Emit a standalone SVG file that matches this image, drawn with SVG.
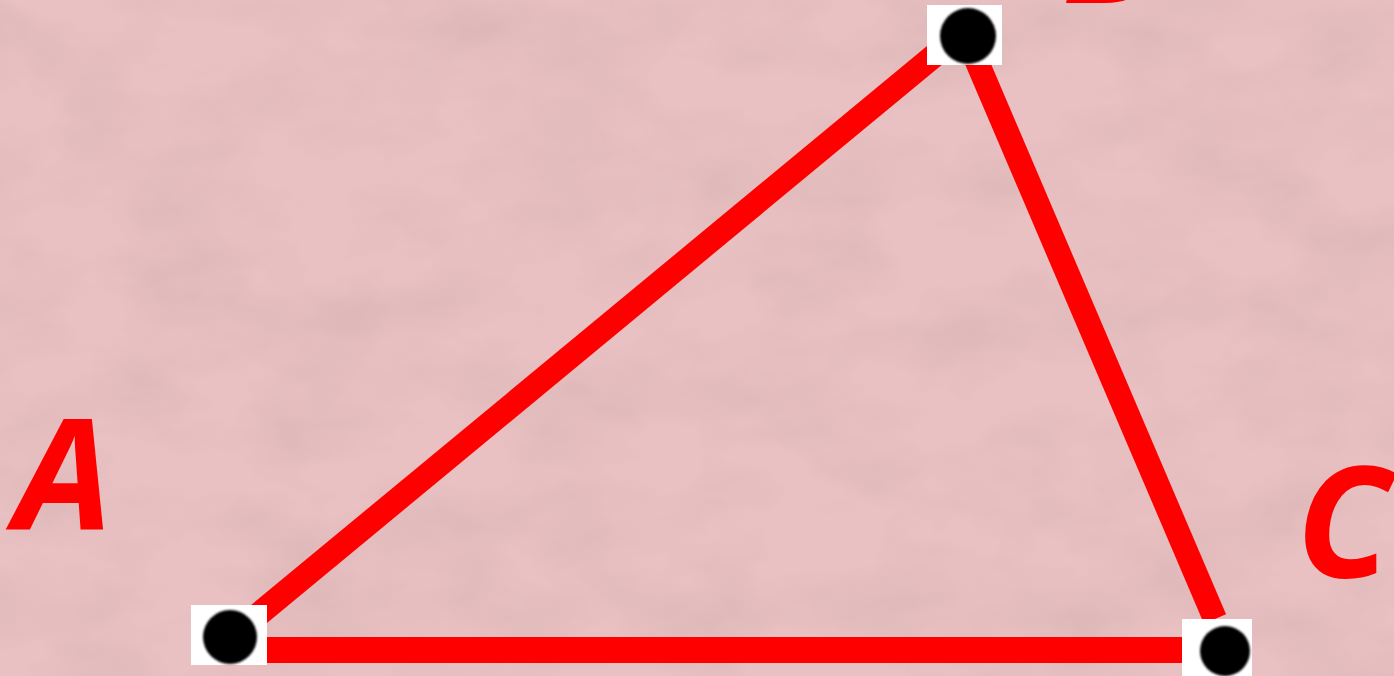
<svg xmlns="http://www.w3.org/2000/svg" width="1394" height="676" viewBox="0 0 1394 676">
  <defs>
    <filter id="tex" x="0" y="0" width="100%" height="100%">
      <feTurbulence type="fractalNoise" baseFrequency="0.008 0.014" numOctaves="4" seed="7" result="n"/>
      <feColorMatrix in="n" type="matrix" values="0 0 0 0 0.55  0 0 0 0 0.35  0 0 0 0 0.36  0 0 0 -1.6 1.0"/>
    </filter>
    <filter id="soft"><feGaussianBlur stdDeviation="1"/></filter>
    <style>
      .edge { stroke: #ff0000; stroke-width: 24; stroke-linecap: butt; fill: none; }
      .pad { fill: #ffffff; }
      .dot { fill: #000000; filter: url(#soft); }
      .lbl { font-family: "Noto Sans", "DejaVu Sans", sans-serif; font-weight: bold; font-style: italic; font-size: 155px; fill: #ff0000; }
    </style>
  </defs>
  <rect width="1394" height="676" fill="#e9c1c2"/>
  <rect width="1394" height="676" filter="url(#tex)" opacity="0.35"/>
  <g id="connectors">
    <line class="edge" x1="253" y1="619" x2="941" y2="50"/>
    <line class="edge" x1="972" y1="50" x2="1215" y2="619"/>
    <line class="edge" x1="252" y1="650" x2="1212" y2="650" style="stroke-width:26"/>
  </g>
  <g id="node-A">
    <rect class="pad" x="191" y="605" width="76" height="60"/>
    <circle class="dot" cx="230" cy="637" r="27"/>
    <text class="lbl" x="15" y="529">A</text>
  </g>
  <g id="node-B">
    <rect class="pad" x="927" y="5" width="75" height="60"/>
    <circle class="dot" cx="968" cy="36" r="28"/>
    <text class="lbl" x="1062" y="3">B</text>
  </g>
  <g id="node-C">
    <rect class="pad" x="1182" y="619" width="70" height="57"/>
    <circle class="dot" cx="1225" cy="651" r="25"/>
    <text class="lbl" x="1296" y="577">C</text>
  </g>
</svg>
